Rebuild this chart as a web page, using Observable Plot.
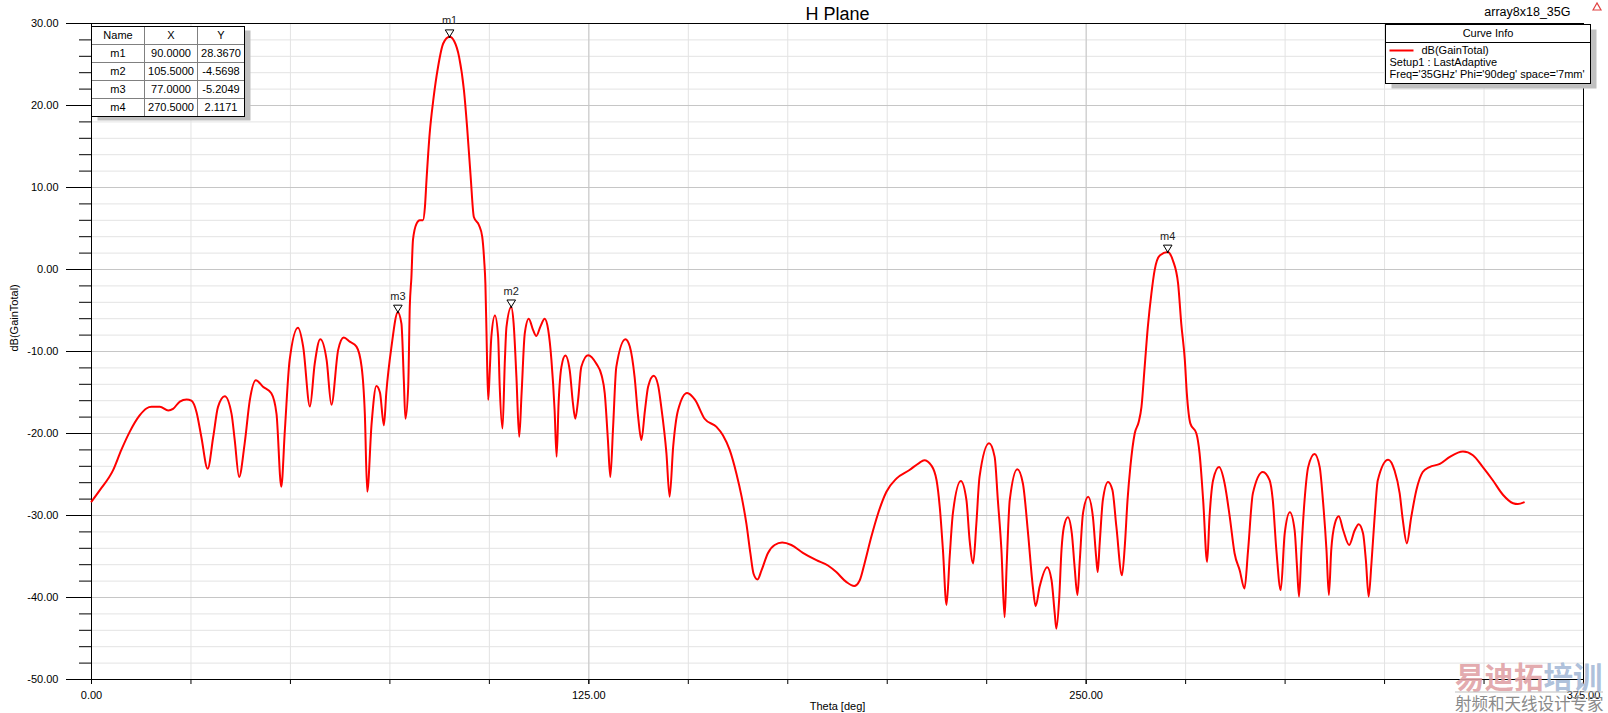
<!DOCTYPE html>
<html><head><meta charset="utf-8">
<style>html,body{margin:0;padding:0;background:#fff;overflow:hidden}</style>
<script src="https://cdn.jsdelivr.net/npm/d3@7"></script>
<script src="https://cdn.jsdelivr.net/npm/@observablehq/plot@0.6"></script>
</head><body><div id="chart"></div>
<script>
// ---- data ----
const theta = [0,2.1,5.4,7.5,9.6,12.1,13.8,15.1,17.2,19.3,20.5,22.2,23.9,25.1,26.4,27.6,29.2,30.6,31.8,33.5,35.2,36.0,37.1,38.5,39.8,41.3,43.1,45.2,46.5,47.7,48.6,49.8,51.9,53.2,54.9,56.1,57.5,59.1,60.3,62.0,63.4,64.9,66.6,67.9,68.7,69.3,70.4,71.6,72.5,73.5,74.1,75.4,77.0,77.9,78.5,78.9,79.6,80.0,80.4,80.8,81.7,82.5,83.3,83.8,84.2,85.0,85.9,87.1,88.4,90.0,91.2,92.4,93.6,94.4,95.3,96.1,97.4,98.2,98.7,99.0,99.3,99.7,100.1,100.5,101.4,102.2,102.6,103.3,103.9,104.3,105.5,106.1,106.8,107.5,108.1,108.9,109.9,111.0,111.8,112.8,113.9,114.8,115.6,116.4,116.9,117.4,118.1,119.1,120.2,121.0,121.6,122.3,123.1,124.8,126.9,128.2,129.0,129.8,130.4,131.1,131.9,134.2,135.3,136.5,137.4,138.2,139.1,139.9,141.3,142.4,143.2,144.5,145.3,146.2,147.4,149.7,151.7,154.1,157.1,158.7,160.4,162.1,163.4,164.6,165.6,166.4,167.4,168.4,170.0,171.7,173.6,175.9,178.8,182.2,185.1,187.2,189.7,191.7,193.1,194.3,196.0,197.7,199.8,202.3,205.6,208.0,209.3,211.1,212.4,213.2,214.0,214.9,215.7,216.5,218.5,219.9,220.7,221.6,222.4,223.2,225.6,227.0,227.8,228.7,229.5,230.0,230.8,232.7,234.1,235.4,236.6,237.3,238.3,240.2,241.3,242.1,242.5,243.2,243.8,244.4,245.4,246.4,247.1,247.8,248.4,249.2,250.5,251.7,252.5,252.9,253.4,254.2,255.5,256.6,257.6,259.0,259.7,260.4,261.1,262.2,263.2,263.9,264.7,265.5,266.4,267.2,268.5,270.5,271.8,273.1,273.9,274.8,275.3,276.2,277.7,278.5,279.4,280.4,281.0,281.9,283.4,284.8,286.1,287.3,288.6,289.8,290.7,291.9,294.4,296.1,296.9,297.8,298.9,299.9,301.2,302.4,303.0,303.5,304.1,304.9,305.8,307.4,308.7,309.5,310.4,311.0,311.6,312.5,313.5,314.6,316.1,317.5,318.5,319.6,320.3,321.0,321.7,322.5,323.3,325.9,327.5,328.8,329.6,330.6,331.7,333.0,334.6,336.3,338.9,341.4,344.7,347.2,349.7,352.2,354.8,357.3,358.5,360];
const gain = [-28.3,-26.9,-24.5,-22.0,-19.8,-17.8,-16.95,-16.75,-16.75,-17.2,-17.0,-16.1,-15.85,-16.0,-17.4,-20.4,-24.3,-20.4,-16.75,-15.45,-17.6,-20.8,-25.3,-21.2,-15.9,-13.5,-14.3,-15.1,-17.6,-26.5,-19.6,-11.06,-7.1,-9.4,-16.7,-11.5,-8.5,-11.06,-16.5,-9.8,-8.3,-8.8,-9.4,-11.9,-17.6,-27.1,-18.8,-14.2,-15.0,-19.0,-15.0,-9.4,-5.2,-6.6,-13.5,-18.2,-14.3,-4.5,-1.0,3.6,5.6,6.0,6.0,7.6,10.9,16.6,20.65,24.7,27.56,28.37,27.8,25.9,21.9,17.4,11.3,6.4,5.4,4.0,1.1,-1.7,-8.2,-15.9,-12.3,-8.2,-5.6,-8.2,-14.3,-19.4,-11.06,-7.0,-4.57,-6.6,-13.1,-20.4,-15.1,-7.8,-6.0,-7.4,-8.1,-7.0,-6.0,-7.4,-11.06,-17.2,-22.85,-16.3,-11.9,-10.5,-12.3,-16.3,-18.2,-15.9,-11.9,-10.45,-11.5,-12.9,-15.1,-20.8,-25.3,-19.2,-11.9,-8.5,-9.4,-13.1,-18.0,-20.8,-17.2,-14.3,-12.97,-14.1,-16.75,-22.4,-27.7,-21.6,-17.2,-15.05,-15.9,-18.2,-19.2,-20.2,-22.0,-24.9,-27.7,-31.0,-34.6,-37.1,-37.8,-36.7,-34.6,-33.6,-33.3,-33.6,-34.55,-35.45,-36.1,-36.9,-38.1,-38.6,-37.9,-35.85,-32.6,-29.75,-27.1,-25.5,-24.45,-23.6,-23.26,-23.9,-25.7,-28.95,-34.2,-40.9,-35.0,-29.75,-25.8,-28.1,-33.0,-35.85,-31.0,-25.3,-21.2,-22.85,-28.1,-34.2,-42.4,-36.3,-28.1,-24.35,-26.1,-32.2,-38.7,-41.06,-38.7,-36.3,-37.9,-41.95,-43.8,-40.3,-34.2,-31.4,-30.2,-32.2,-36.3,-39.7,-35.45,-29.75,-27.7,-30.2,-35.0,-36.9,-33.4,-28.1,-25.9,-26.9,-31.4,-37.3,-33.8,-28.1,-24.1,-20.0,-18.6,-16.75,-11.9,-7.0,-2.9,-0.1,1.7,2.12,1.1,-1.7,-6.6,-11.06,-15.1,-18.8,-20.0,-22.4,-28.1,-35.66,-30.2,-25.7,-24.1,-26.1,-30.2,-34.6,-36.7,-38.9,-34.2,-27.3,-24.7,-25.7,-28.1,-34.2,-39.1,-32.2,-29.6,-31.8,-36.3,-39.9,-34.2,-28.1,-24.1,-22.5,-24.1,-28.1,-34.2,-39.7,-34.2,-31.0,-30.1,-31.8,-33.6,-31.8,-31.06,-32.2,-35.45,-39.9,-35.85,-30.2,-25.7,-23.2,-24.5,-27.3,-30.6,-33.4,-30.2,-26.9,-24.7,-24.1,-23.7,-22.85,-22.2,-22.65,-24.1,-25.7,-27.5,-28.5,-28.6,-28.4];

const markerNames = ["m1","m2","m3","m4"];
const markerX = [90, 105.5, 77, 270.5];
const markerY = [28.367, -4.5698, -5.2049, 2.1171];
const markerXText = ["90.0000","105.5000","77.0000","270.5000"];
const markerYText = ["28.3670","-4.5698","-5.2049","2.1171"];

const xLabelTicks = [0, 125, 250, 375];
const yLabelTicks = [30, 20, 10, 0, -10, -20, -30, -40, -50];
const xMinor = d3.range(0, 376, 25);
const yMinor = d3.range(-50, 31, 2);
const xMajorGrid = [125, 250];

const title = "H Plane";
const designName = "array8x18_35G";
const xTitle = "Theta [deg]";
const yTitle = "dB(GainTotal)";
const legendTitle = "Curve Info";
const legendLines = ["dB(GainTotal)", "Setup1 : LastAdaptive", "Freq='35GHz' Phi='90deg' space='7mm'"];
const tableHeader = ["Name", "X", "Y"];

// ---- build ----
const curve = theta.map((t, i) => ({theta: t, gain: gain[i]}));
const markers = markerNames.map((n, i) => ({name: n, x: markerX[i], y: markerY[i]}));
const FONT = "'Liberation Sans', Arial, sans-serif";

const downTri = {
  draw(ctx) { ctx.moveTo(0, 0); ctx.lineTo(-4.3, -7); ctx.lineTo(4.3, -7); ctx.closePath(); }
};

const chart = Plot.plot({
  width: 1608, height: 713,
  marginLeft: 91, marginRight: 25, marginTop: 23, marginBottom: 34,
  style: {fontFamily: FONT, fontSize: "11px", background: "#fff", color: "#000"},
  x: {domain: [0, 375]},
  y: {domain: [-50, 30]},
  marks: [
    Plot.gridX(xMinor, {stroke: "#e3e3e3", strokeOpacity: 1}),
    Plot.gridY(yMinor, {stroke: "#e3e3e3", strokeOpacity: 1}),
    Plot.gridX(xMajorGrid, {stroke: "#c6c6c6", strokeOpacity: 1}),
    Plot.gridY(yLabelTicks, {stroke: "#c6c6c6", strokeOpacity: 1}),
    Plot.axisY(yMinor, {tickSize: 12, tickFormat: () => "", stroke: "#000", label: null}),
    Plot.axisY(yLabelTicks, {tickSize: 25, tickPadding: 8, tickFormat: d => d.toFixed(2), stroke: "#000", fill: "#000", fontSize: 11, label: null}),
    Plot.axisX(xMinor, {tickSize: 5, tickFormat: () => "", stroke: "#000", label: null}),
    Plot.axisX(xLabelTicks, {tickSize: 5, tickPadding: 7, tickFormat: d => d.toFixed(2), stroke: "#000", fill: "#000", fontSize: 11, label: null}),
    Plot.ruleX([0, 375], {stroke: "#000"}),
    Plot.ruleY([-50, 30], {stroke: "#000"}),
    Plot.line(curve, {x: "theta", y: "gain", stroke: "#ff0000", strokeWidth: 2, curve: "monotone-x"}),
    Plot.dot(markers, {x: "x", y: "y", symbol: downTri, fill: "#fff", stroke: "#000", strokeWidth: 1}),
    Plot.dot(markers, {x: "x", y: "y", r: 1, fill: "#000"}),
    Plot.text(markers, {x: "x", y: "y", text: "name", dy: -16, fontSize: 11, fill: "#222"}),
    Plot.text([title], {frameAnchor: "top", dy: -16, fontSize: 18, fill: "#000"}),
    Plot.text([designName], {frameAnchor: "top-right", dx: -13, dy: -16, textAnchor: "end", fontSize: 12.5, fill: "#000"}),
    Plot.text([xTitle], {frameAnchor: "bottom", dy: 30, fontSize: 11, fill: "#000"}),
    Plot.text([yTitle], {frameAnchor: "left", dx: -77, rotate: -90, fontSize: 11, fill: "#000"})
  ]
});
document.getElementById("chart").appendChild(chart);

// ---- overlays: marker table, curve info legend, watermark ----
const svg = d3.select(chart);

// marker table
(function(){
  const x0 = 91.5, y0 = 26.5;
  const cw = [53, 53, 47];
  const rh = [18, 18, 18, 18, 18];
  const W = d3.sum(cw), H = d3.sum(rh);
  const g = svg.append("g").attr("font-family", FONT).attr("font-size", 11).attr("text-anchor", "middle");
  g.append("rect").attr("x", x0 + 6).attr("y", y0 + 4).attr("width", W).attr("height", H).attr("fill", "#c0c0c0");
  g.append("rect").attr("x", x0).attr("y", y0).attr("width", W).attr("height", H).attr("fill", "#fff");
  const rows = [tableHeader].concat(markerNames.map((n, i) => [n, markerXText[i], markerYText[i]]));
  let yy = y0;
  rows.forEach((r, ri) => {
    let xx = x0;
    r.forEach((c, ci) => {
      g.append("text").attr("x", xx + cw[ci] / 2).attr("y", yy + rh[ri] / 2).attr("dy", "0.35em")
        .attr("fill", "#000").text(c);
      xx += cw[ci];
    });
    yy += rh[ri];
    if (ri < rows.length - 1)
      g.append("line").attr("x1", x0).attr("x2", x0 + W).attr("y1", yy).attr("y2", yy).attr("stroke", "#808080");
  });
  let xx = x0;
  cw.slice(0, -1).forEach(w => { xx += w; g.append("line").attr("x1", xx).attr("x2", xx).attr("y1", y0).attr("y2", y0 + H).attr("stroke", "#808080"); });
  g.append("rect").attr("x", x0).attr("y", y0).attr("width", W).attr("height", H).attr("fill", "none").attr("stroke", "#000");
})();

// curve info legend
(function(){
  const x0 = 1385.5, y0 = 24.5, W = 205, H = 59;
  const g = svg.append("g").attr("font-family", FONT).attr("font-size", 11).attr("text-anchor", "start");
  g.append("rect").attr("x", x0 + 6).attr("y", y0 + 5).attr("width", W).attr("height", H).attr("fill", "#c0c0c0");
  g.append("rect").attr("x", x0).attr("y", y0).attr("width", W).attr("height", H).attr("fill", "#fff").attr("stroke", "#000");
  g.append("line").attr("x1", x0).attr("x2", x0 + W).attr("y1", y0 + 18).attr("y2", y0 + 18).attr("stroke", "#000");
  g.append("text").attr("x", x0 + W / 2).attr("y", y0 + 9).attr("dy", "0.35em").attr("text-anchor", "middle").text(legendTitle);
  g.append("line").attr("x1", x0 + 4).attr("x2", x0 + 28).attr("y1", y0 + 26).attr("y2", y0 + 26).attr("stroke", "#ff0000").attr("stroke-width", 2);
  g.append("text").attr("x", x0 + 36).attr("y", y0 + 26).attr("dy", "0.35em").text(legendLines[0]);
  g.append("text").attr("x", x0 + 4).attr("y", y0 + 38).attr("dy", "0.35em").text(legendLines[1]);
  g.append("text").attr("x", x0 + 4).attr("y", y0 + 50).attr("dy", "0.35em").text(legendLines[2]);
  // small icon at top right
  g.append("path").attr("d", "M1593,10 L1597,3 L1601,10 Z").attr("fill", "none").attr("stroke", "#e04040").attr("stroke-width", 1.2);
})();

// watermark
(function(){
  const g = svg.append("g").attr("font-family", "'Noto Sans CJK SC', sans-serif").attr("font-weight", "bold").attr("text-anchor", "start");
  const t = g.append("text").attr("x", 1455).attr("y", 688).attr("font-size", 29.5);
  t.append("tspan").attr("fill", "#e0a0a4").attr("fill-opacity", 0.9).text("易迪拓");
  t.append("tspan").attr("fill", "#a4b9d6").attr("fill-opacity", 0.9).text("培训");
  g.append("line").attr("x1", 1455).attr("x2", 1603).attr("y1", 692).attr("y2", 692).attr("stroke", "#bdbdbd");
  g.append("text").attr("x", 1455).attr("y", 710).attr("font-size", 16.5).attr("font-weight", "normal").attr("fill", "#8a8a8a").text("射频和天线设计专家");
})();
</script>
</body></html>
